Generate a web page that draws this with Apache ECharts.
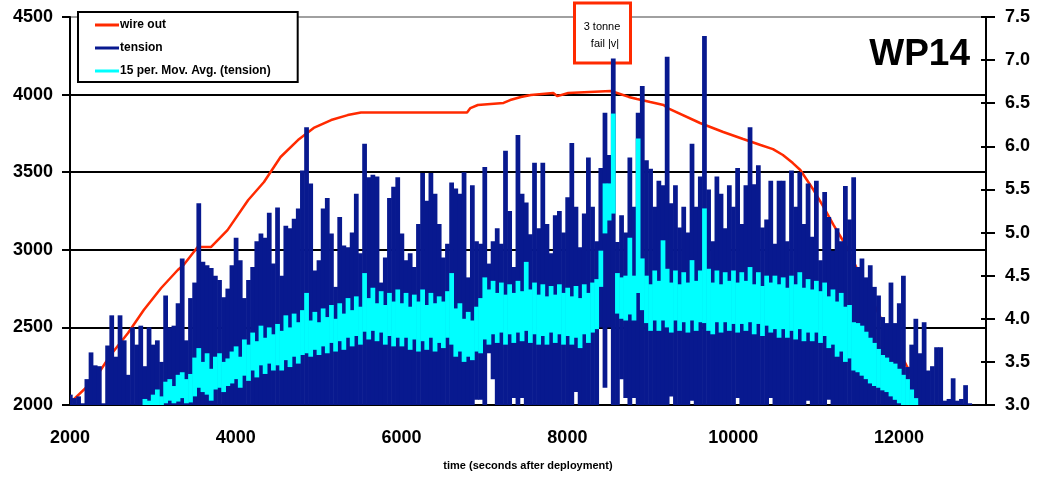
<!DOCTYPE html>
<html>
<head>
<meta charset="utf-8">
<script src="https://cdn.jsdelivr.net/npm/echarts@6/dist/echarts.min.js"></script>
<style>
  html, body { margin: 0; padding: 0; background: #fff; }
  #chart { width: 1037px; height: 479px; }
</style>
</head>
<body>
<div id="chart"></div>
<script>
// Tension record, summarised in 50 s bins starting at t = 2000 s:
// highest and lowest reading in each bin (tonnes).
const binStart = 2000;
const binWidth = 50;

const tensionHigh = [
  3.12, 3.08, 3.10, 3.02, 3.30, 3.61, 3.46, 3.45, 3.02, 3.69,
  4.04, 3.56, 4.04, 3.75, 3.35, 3.90, 3.70, 3.92, 3.45, 3.90,
  3.70, 3.75, 3.50, 4.27, 3.90, 3.92, 4.18, 4.70, 3.75, 4.24,
  4.42, 5.34, 4.66, 4.62, 4.59, 4.50, 4.45, 4.25, 4.35, 4.62,
  4.94, 4.68, 4.24, 4.45, 4.60, 4.90, 4.99, 4.94, 5.23, 4.64,
  5.29, 4.50, 5.08, 5.05, 5.16, 5.28, 5.72, 6.22, 5.57, 4.56,
  4.68, 5.28, 5.40, 4.99, 4.37, 5.18, 4.85, 4.83, 5.00, 5.45,
  4.76, 6.03, 5.64, 5.67, 5.65, 4.42, 4.71, 5.40, 5.53, 5.64,
  4.99, 4.68, 4.76, 4.60, 5.10, 5.69, 5.37, 5.69, 5.45, 5.10,
  4.71, 4.87, 5.58, 5.51, 5.45, 5.70, 4.48, 5.55, 4.90, 4.87,
  5.76, 4.64, 4.90, 5.05, 4.87, 5.95, 5.25, 4.60, 6.13, 5.45,
  5.35, 4.98, 5.81, 5.05, 5.81, 5.10, 4.76, 5.20, 5.25, 5.00,
  5.41, 6.04, 5.30, 4.83, 5.22, 5.87, 5.30, 4.90, 5.75, 6.39,
  5.90, 7.02, 4.89, 5.20, 5.00, 5.87, 5.30, 6.39, 6.70, 5.84,
  5.74, 5.30, 5.60, 5.55, 7.04, 5.34, 5.55, 5.06, 5.30, 5.00,
  6.03, 5.30, 5.65, 7.28, 5.50, 4.90, 5.65, 5.45, 5.05, 5.55,
  5.30, 5.75, 5.10, 5.55, 6.22, 5.56, 5.78, 5.06, 5.15, 5.60,
  4.87, 5.60, 5.60, 4.90, 5.72, 5.30, 5.70, 5.10, 5.57, 4.95,
  5.60, 4.68, 5.47, 5.18, 4.79, 5.05, 4.90, 5.54, 5.15, 5.64,
  4.60, 4.70, 4.48, 4.62, 4.37, 4.27, 4.02, 3.95, 4.42, 3.95,
  4.18, 4.50, 3.44, 3.70, 4.00, 3.60, 3.96, 3.40, 3.45, 3.67,
  3.67, 3.05, 3.07, 3.31, 3.05, 3.07, 3.23, 3.02
];

const tensionLow = [
  3, 3, 3, 3, 3, 3, 3, 3, 3, 3,
  3, 3, 3, 3, 3, 3, 3, 3, 3, 3,
  3, 3, 3, 3, 3, 3, 3, 3, 3, 3,
  3, 3, 3, 3, 3, 3, 3, 3, 3, 3,
  3, 3, 3, 3, 3, 3, 3, 3, 3, 3,
  3, 3, 3, 3, 3, 3, 3, 3, 3, 3,
  3, 3, 3, 3, 3, 3, 3, 3, 3, 3,
  3, 3, 3, 3, 3, 3, 3, 3, 3, 3,
  3, 3, 3, 3, 3, 3, 3, 3, 3, 3,
  3, 3, 3, 3, 3, 3, 3, 3, 3.06, 3.06,
  3, 3.6, 3.3, 3, 3, 3, 3, 3.08, 3, 3.08,
  3, 3, 3, 3, 3, 3, 3, 3, 3, 3,
  3, 3, 3.15, 3, 3, 3, 3, 3, 3.9, 3.2,
  3.9, 3, 3, 3.3, 3.08, 3, 3.08, 3, 3, 3,
  3, 3, 3, 3, 3, 3.1, 3, 3, 3, 3,
  3.05, 3, 3, 3, 3, 3, 3, 3, 3, 3,
  3, 3.08, 3, 3, 3, 3, 3, 3, 3, 3.08,
  3, 3, 3, 3, 3, 3, 3, 3, 3.05, 3,
  3, 3, 3, 3.06, 3, 3, 3, 3, 3, 3,
  3, 3, 3, 3, 3, 3, 3, 3, 3, 3,
  3, 3, 3, 3, 3, 3, 3, 3, 3, 3,
  3, 3, 3, 3, 3, 3, 3, 3
];

// 15-period moving average of tension: range covered in each bin.
const avgHigh = [
  null, null, null, null, null, null, null, null, null, null,
  null, null, null, null, null, null, null, null, 3.07, 3.05,
  3.12, 3.18, 3.10, 3.27, 3.30, 3.22, 3.35, 3.38, 3.30, 3.36,
  3.55, 3.66, 3.50, 3.60, 3.42, 3.56, 3.60, 3.50, 3.54, 3.62,
  3.68, 3.56, 3.76, 3.70, 3.84, 3.74, 3.92, 3.78, 3.90, 3.82,
  3.94, 3.86, 4.04, 3.90, 4.06, 3.96, 4.10, 4.30, 3.98, 4.08,
  3.96, 4.12, 4.02, 4.16, 4.00, 4.18, 4.06, 4.24, 4.10, 4.26,
  4.14, 4.53, 4.24, 4.36, 4.18, 4.32, 4.16, 4.30, 4.20, 4.34,
  4.18, 4.30, 4.14, 4.28, 4.20, 4.34, 4.16, 4.30, 4.18, 4.26,
  4.20, 4.32, 4.53, 4.12, 4.18, 4.00, 4.08, 3.98, 4.14, 4.24,
  4.48, 4.34, 4.44, 4.30, 4.42, 4.28, 4.40, 4.30, 4.44, 4.32,
  4.66, 4.34, 4.42, 4.28, 4.40, 4.26, 4.38, 4.28, 4.40, 4.30,
  4.36, 4.26, 4.38, 4.24, 4.40, 4.30, 4.42, 4.46, 4.79, 5.57,
  5.57, 6.38, 4.53, 4.48, 4.50, 4.94, 4.50, 6.09, 4.70, 4.50,
  4.40, 4.56, 4.44, 4.91, 4.58, 4.42, 4.56, 4.40, 4.54, 4.42,
  4.68, 4.44, 4.56, 5.28, 4.58, 4.42, 4.56, 4.40, 4.54, 4.44,
  4.56, 4.42, 4.54, 4.44, 4.60, 4.40, 4.54, 4.38, 4.50, 4.42,
  4.50, 4.40, 4.48, 4.36, 4.50, 4.40, 4.54, 4.36, 4.46, 4.34,
  4.44, 4.32, 4.42, 4.26, 4.34, 4.20, 4.30, 4.14, 4.16, 3.96,
  3.95, 3.92, 3.85, 3.78, 3.72, 3.65, 3.58, 3.55, 3.50, 3.48,
  3.42, 3.35, 3.30, 3.18, 3.08, null, null, null, null, null,
  null, null, null, null, null, null, null, null
];

const avgLow = [
  null, null, null, null, null, null, null, null, null, null,
  null, null, null, null, null, null, null, null, 3.00, 3.00,
  3.00, 3.00, 3.00, 3.02, 3.05, 3.02, 3.04, 3.08, 3.02, 3.03,
  3.10, 3.20, 3.15, 3.12, 3.05, 3.18, 3.20, 3.15, 3.22, 3.25,
  3.30, 3.20, 3.34, 3.28, 3.40, 3.32, 3.46, 3.36, 3.48, 3.40,
  3.46, 3.40, 3.52, 3.44, 3.56, 3.48, 3.58, 3.60, 3.56, 3.64,
  3.58, 3.68, 3.60, 3.72, 3.62, 3.74, 3.64, 3.78, 3.68, 3.80,
  3.70, 3.85, 3.76, 3.86, 3.74, 3.84, 3.70, 3.80, 3.68, 3.78,
  3.68, 3.78, 3.64, 3.76, 3.62, 3.74, 3.64, 3.78, 3.62, 3.72,
  3.66, 3.78, 3.70, 3.56, 3.62, 3.50, 3.56, 3.52, 3.62, 3.60,
  3.76, 3.70, 3.82, 3.72, 3.84, 3.70, 3.82, 3.72, 3.84, 3.74,
  3.86, 3.72, 3.82, 3.70, 3.80, 3.70, 3.84, 3.72, 3.82, 3.70,
  3.80, 3.70, 3.78, 3.66, 3.82, 3.72, 3.84, 3.88, 4.37, 4.99,
  5.14, 5.22, 4.06, 4.00, 3.98, 4.05, 3.98, 4.30, 4.10, 3.95,
  3.86, 3.98, 3.86, 3.98, 3.90, 3.84, 3.98, 3.86, 3.96, 3.84,
  3.98, 3.86, 3.96, 3.95, 3.86, 3.82, 3.96, 3.84, 3.96, 3.86,
  3.94, 3.84, 3.94, 3.86, 3.96, 3.82, 3.94, 3.80, 3.92, 3.84,
  3.88, 3.78, 3.88, 3.78, 3.86, 3.76, 3.88, 3.74, 3.84, 3.74,
  3.84, 3.72, 3.80, 3.66, 3.70, 3.56, 3.62, 3.50, 3.54, 3.40,
  3.38, 3.34, 3.30, 3.25, 3.22, 3.20, 3.17, 3.15, 3.10, 3.06,
  3.02, 3.00, 3.00, 3.00, 3.00, null, null, null, null, null,
  null, null, null, null, null, null, null, null
];

// Wire paid out (m) against time (s).
const wireTime = [
  2010, 2290, 2490, 2700, 2890, 3100, 3300, 3370, 3540, 3700,
  3900, 4150, 4340, 4540, 4750, 4940, 5150, 5350, 5510, 6790,
  6830, 6920, 7230, 7310, 7440, 7560, 7830, 7880, 8010, 8520,
  8600, 8740, 8840, 9000, 9160, 9210, 9600, 9880, 10120, 10330,
  10480, 10600, 10720, 10810, 10890, 10970, 11090, 11210, 11320, 11390,
  11500, 11590, 11750, 11870, 11980, 12100, 12160
];
const wireOut = [
  2019, 2161, 2322, 2464, 2612, 2754, 2870, 2902, 3018, 3018,
  3127, 3321, 3437, 3598, 3707, 3785, 3836, 3868, 3885, 3885,
  3913, 3933, 3946, 3965, 3985, 3997, 4010, 3990, 4010, 4023,
  4010, 3985, 3972, 3952, 3933, 3913, 3817, 3759, 3714, 3675,
  3649, 3611, 3559, 3514, 3450, 3385, 3276, 3160, 3063, 2999,
  2870, 2773, 2593, 2464, 2374, 2245, 2187
];

const seriesNames = ['wire out', 'tension', '15 per. Mov. Avg. (tension)'];
const xTitle = 'time (seconds after deployment)';
const noteLines = ['3 tonne', 'fail |v|'];
const plotTag = 'WP14';

const RED = '#ff2a00';
const NAVY = '#08198f';
const CYAN = '#00ffff';
const FONT = '"Liberation Sans", Arial, sans-serif';

const wireData = wireTime.map((t, i) => [t, wireOut[i]]);
const tensionData = tensionHigh.map((hi, i) => [binStart + i * binWidth, tensionLow[i], hi]);
const avgData = avgHigh
  .map((hi, i) => (hi == null ? null : [binStart + i * binWidth, avgLow[i], hi]))
  .filter(Boolean);

// Each bin is drawn as a filled column spanning its low..high range.
function binColumns(color) {
  return function (params, api) {
    const t = api.value(0);
    const lo = api.value(1);
    const hi = api.value(2);
    const a = api.coord([t - binWidth / 2, hi]);
    const b = api.coord([t + binWidth / 2, lo]);
    return {
      type: 'rect',
      shape: { x: a[0], y: a[1], width: b[0] - a[0] + 0.6, height: Math.max(b[1] - a[1], 1) },
      style: { fill: color }
    };
  };
}

const plainNumber = v => String(v);

const chart = echarts.init(document.getElementById('chart'), null, { renderer: 'canvas' });

const boldLabel = { color: '#000', fontFamily: FONT, fontWeight: 'bold', fontSize: 18 };

chart.setOption({
  animation: false,
  backgroundColor: '#fff',
  grid: { left: 70, right: 51, top: 17, bottom: 74, containLabel: false },
  legend: {
    left: 78, top: 12,
    orient: 'vertical',
    padding: [7, 27, 5, 17],
    itemGap: 11,
    itemWidth: 24, itemHeight: 3,
    backgroundColor: '#fff',
    borderColor: '#000', borderWidth: 2,
    selectedMode: false,
    textStyle: { color: '#000', fontFamily: FONT, fontWeight: 'bold', fontSize: 12, padding: [0, 0, 0, -4] },
    data: [
      { name: seriesNames[0], icon: 'rect', itemStyle: { color: RED } },
      { name: seriesNames[1], icon: 'rect', itemStyle: { color: NAVY } },
      { name: seriesNames[2], icon: 'rect', itemStyle: { color: CYAN } }
    ]
  },
  xAxis: {
    type: 'value',
    min: 2000, max: 13050, interval: 2000,
    axisLine: { show: true, lineStyle: { color: '#000', width: 2 } },
    axisTick: { show: false },
    splitLine: { show: false },
    axisLabel: Object.assign({ margin: 24, showMaxLabel: false, formatter: plainNumber }, boldLabel),
    name: xTitle,
    nameLocation: 'middle',
    nameGap: 55,
    nameTextStyle: { color: '#000', fontFamily: FONT, fontWeight: 'bold', fontSize: 11 }
  },
  yAxis: [
    {
      type: 'value', position: 'left',
      min: 2000, max: 4500, interval: 500,
      axisLine: { show: true, lineStyle: { color: '#000', width: 2 } },
      axisTick: { show: true, length: 8, lineStyle: { color: '#000', width: 2 } },
      splitLine: { show: true, lineStyle: { color: ['#000', '#000', '#000', '#000', '#000', '#a0a0a0'], width: 2 } },
      axisLabel: Object.assign({ margin: 17, formatter: plainNumber }, boldLabel)
    },
    {
      type: 'value', position: 'right',
      min: 3, max: 7.5, interval: 0.5,
      axisLine: { show: true, lineStyle: { color: '#000', width: 2 } },
      axisTick: { show: true, length: 9, lineStyle: { color: '#000', width: 2 } },
      splitLine: { show: false },
      axisLabel: Object.assign({ margin: 19, formatter: v => v.toFixed(1) }, boldLabel)
    },
    {
      type: 'value', position: 'right',
      min: 3, max: 7.5, interval: 0.5,
      axisLine: { show: false },
      axisTick: { show: true, inside: true, length: 5, lineStyle: { color: '#000', width: 2 } },
      splitLine: { show: false },
      axisLabel: { show: false }
    }
  ],
  series: [
    {
      name: seriesNames[0],
      type: 'line',
      yAxisIndex: 0,
      data: wireData,
      showSymbol: false,
      lineStyle: { color: RED, width: 2.5 },
      itemStyle: { color: RED },
      z: 2
    },
    {
      name: seriesNames[1],
      type: 'custom',
      yAxisIndex: 1,
      clip: true,
      data: tensionData,
      encode: { x: 0, y: [1, 2] },
      renderItem: binColumns(NAVY),
      itemStyle: { color: NAVY },
      z: 3
    },
    {
      name: seriesNames[2],
      type: 'custom',
      yAxisIndex: 1,
      clip: true,
      data: avgData,
      encode: { x: 0, y: [1, 2] },
      renderItem: binColumns(CYAN),
      itemStyle: { color: CYAN },
      z: 4
    }
  ],
  graphic: [
    {
      type: 'rect', z: 1,
      shape: { x: 574.5, y: 3, width: 56, height: 60 },
      style: { fill: '#fff', stroke: RED, lineWidth: 3 }
    },
    {
      type: 'text', z: 10, x: 602, y: 27,
      style: { text: noteLines[0], fill: '#000', font: '11px ' + FONT, textAlign: 'center', textVerticalAlign: 'middle' }
    },
    {
      type: 'text', z: 10, x: 605, y: 44,
      style: { text: noteLines[1], fill: '#000', font: '11px ' + FONT, textAlign: 'center', textVerticalAlign: 'middle' }
    },
    {
      type: 'text', z: 10, x: 970, y: 55,
      style: { text: plotTag, fill: '#000', font: 'bold 37px ' + FONT, textAlign: 'right', textVerticalAlign: 'middle' }
    }
  ]
});
</script>
</body>
</html>
